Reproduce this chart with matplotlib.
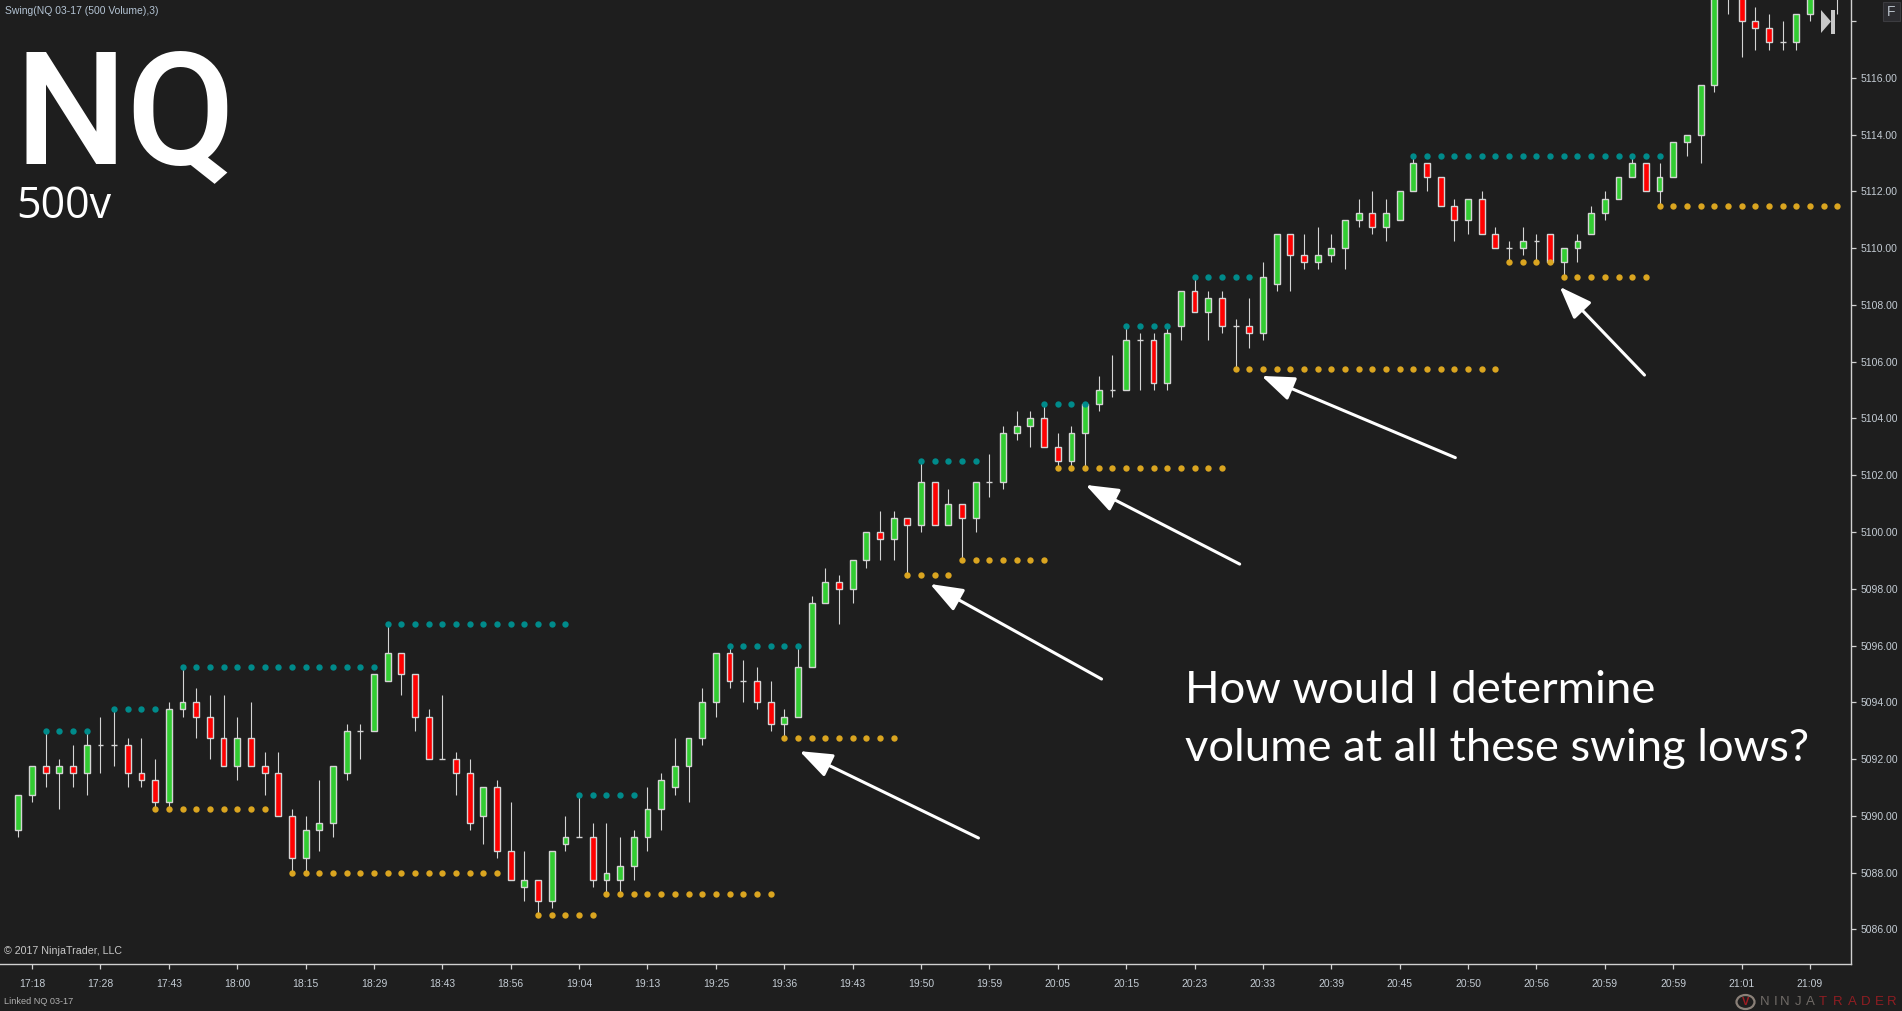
import numpy as np
import matplotlib
matplotlib.use('Agg')
import matplotlib.pyplot as plt
from matplotlib.patches import Polygon, Rectangle, Ellipse

W, H = 1902, 1011
BG = '#1e1e1e'

opens = [5089.5,5090.75,5091.75,5091.5,5091.75,5091.5,5092.5,5092.5,5092.5,5091.5,
         5091.25,5090.5,5093.75,5094,5093.5,5092.75,5091.75,5092.75,5091.75,5091.5,
         5090,5088.5,5089.5,5089.75,5091.5,5093,5093,5094.75,5095.75,5095,
         5093.5,5092,5092,5091.5,5090,5091,5088.75,5087.5,5087.75,5087,
         5089,5089.25,5089.25,5087.75,5087.75,5088.25,5089.25,5090.25,5091,5091.75,
         5092.75,5094,5095.75,5094.75,5094.75,5094,5093.25,5093.5,5095.25,5097.5,
         5098.25,5098,5099,5100,5099.75,5100.5,5100.25,5101.75,5100.25,5101,
         5100.5,5101.75,5101.75,5103.5,5103.75,5104,5103,5102.5,5103.5,5104.5,
         5105,5105,5106.75,5106.75,5105.25,5107.25,5108.5,5107.75,5108.25,5107.25,
         5107.25,5107,5108.75,5110.5,5109.75,5109.5,5109.75,5110,5111,5111.25,
         5110.75,5111,5112,5113,5112.5,5111.5,5111,5111.75,5110.5,5110,
         5110,5110.25,5110.5,5109.5,5110,5110.5,5111.25,5111.75,5112.5,5113,
         5112,5112.5,5113.75,5114,5115.75,5119.25,5119.25,5118,5117.75,5117.25,
         5117.25,5118.25,5119.25,5119.5]
highs = [5090.75,5091.75,5093,5092,5092.5,5093,5093.5,5093.75,5092.75,5092.75,
         5092,5094,5095.25,5094.5,5094.25,5094.25,5093.5,5094,5092.25,5092.25,
         5090.25,5090,5091.25,5091.75,5093.25,5093.25,5095,5096.75,5095.75,5095,
         5093.75,5094.25,5092.25,5092,5091,5091.25,5090.5,5088.75,5087.75,5088.75,
         5090,5090.75,5089.75,5089.75,5089.25,5089.5,5091,5091.5,5092.75,5092.75,
         5094.5,5095.75,5096,5095.5,5095.25,5094.75,5093.75,5096,5097.75,5098.75,
         5098.5,5099,5100,5100.75,5100.75,5100.5,5102.5,5101.75,5101.5,5101,
         5101.75,5102.75,5103.75,5104.25,5104.25,5104.5,5103.5,5103.75,5104.5,5105.5,
         5106.25,5107.25,5107,5107,5107.25,5108.5,5109,5108.5,5108.5,5107.5,
         5108.25,5109.5,5110.5,5110.5,5110.5,5110.75,5110.5,5111,5111.75,5112,
         5111.75,5112,5113.25,5113,5112.5,5111.75,5111.75,5112,5110.75,5110.25,
         5110.75,5110.5,5110.5,5110,5110.5,5111.5,5112,5112.5,5113.25,5113,
         5113,5113.75,5114,5115.75,5119.5,5120,5119.5,5118.5,5118.25,5118,
         5118.25,5119.5,5120,5120.5]
lows = [5089.25,5090.5,5091,5090.25,5091,5090.75,5091.5,5091.75,5091,5091,
        5090.25,5090.25,5093.5,5092.75,5092,5091.75,5091.25,5091.75,5090.75,5090,
        5088,5088,5088.75,5089.25,5091.25,5092,5093,5094.75,5094.25,5093,
        5092,5092,5090.75,5089.5,5089,5088.5,5087.75,5087,5086.5,5086.75,
        5088.75,5089.25,5087.5,5087.25,5087.25,5087.75,5088.75,5089.5,5090.75,5090.5,
        5092.5,5093.5,5094.5,5094,5093.75,5093,5092.75,5093.5,5095.25,5097.5,
        5096.75,5097.5,5098.75,5099,5099,5098.5,5100,5100.25,5100.25,5099,
        5100,5101.25,5101.5,5103.25,5103,5103,5102.25,5102.25,5102.25,5104.25,
        5104.75,5105,5105,5105,5105,5106.75,5107.75,5106.75,5107,5105.75,
        5106.5,5106.75,5108.5,5108.5,5109.25,5109.25,5109.5,5109.25,5110.75,5110.5,
        5110.25,5111,5112,5112,5111.5,5110.25,5110.5,5110.5,5110,5109.5,
        5109.75,5109.5,5109.5,5109,5109.5,5110.5,5111,5111.75,5112.5,5112,
        5111.5,5112.5,5113.25,5113,5115.5,5118.25,5116.75,5117,5117,5117,
        5117,5118,5119,5118.25]
closes = [5090.75,5091.75,5091.5,5091.75,5091.5,5092.5,5092.5,5092.5,5091.5,5091.25,
          5090.5,5093.75,5094,5093.5,5092.75,5091.75,5092.75,5091.75,5091.5,5090,
          5088.5,5089.5,5089.75,5091.75,5093,5093,5095,5095.75,5095,5093.5,
          5092,5092,5091.5,5089.75,5091,5088.75,5087.75,5087.75,5087,5088.75,
          5089.25,5089.25,5087.75,5088,5088.25,5089.25,5090.25,5091.25,5091.75,5092.75,
          5094,5095.75,5094.75,5094.75,5094,5093.25,5093.5,5095.25,5097.5,5098.25,
          5098,5099,5100,5099.75,5100.5,5100.25,5101.75,5100.25,5101,5100.5,
          5101.75,5101.75,5103.5,5103.75,5104,5103,5102.5,5103.5,5104.5,5105,
          5105,5106.75,5106.75,5105.25,5107,5108.5,5107.75,5108.25,5107.25,5107.25,
          5107,5109,5110.5,5109.75,5109.5,5109.75,5110,5111,5111.25,5110.75,
          5111.25,5112,5113,5112.5,5111.5,5111,5111.75,5110.5,5110,5110,
          5110.25,5110.25,5109.5,5110,5110.25,5111.25,5111.75,5112.5,5113,5112,
          5112.5,5113.75,5114,5115.75,5119.25,5119.5,5118,5117.75,5117.25,5117.25,
          5118.25,5119,5119.5,5120]

# swing levels: (first bar, last bar, price)
swing_highs = [(2,5,5093),(7,10,5093.75),(12,26,5095.25),(27,40,5096.75),(41,45,5090.75),
               (52,57,5096),(66,70,5102.5),(75,78,5104.5),(81,84,5107.25),(86,90,5109),
               (102,120,5113.25)]
swing_lows = [(10,18,5090.25),(20,35,5088),(38,42,5086.5),(43,55,5087.25),(56,64,5092.75),
              (65,68,5098.5),(69,75,5099),(76,88,5102.25),(89,108,5105.75),(109,112,5109.5),
              (113,119,5109),(120,133,5111.5)]

time_labels = ['17:18','17:28','17:43','18:00','18:15','18:29','18:43','18:56','19:04',
               '19:13','19:25','19:36','19:43','19:50','19:59','20:05','20:15','20:23',
               '20:33','20:39','20:45','20:50','20:56','20:59','20:59','21:01','21:09']
price_ticks = list(range(5086, 5120, 2))

# arrows: tail bar, tail price, tip bar, tip price
arrows = [(70.2,5089.22,57.12,5092.28),
          (79.2,5094.82,66.66,5098.17),
          (89.3,5098.87,78.04,5101.66),
          (105.07,5102.62,90.9,5105.5),
          (118.9,5105.53,112.7,5108.64)]

opens, highs, lows, closes = map(np.array, (opens, highs, lows, closes))
bars = np.arange(len(opens))

fig = plt.figure(figsize=(W/100, H/100), dpi=100, facecolor=BG)
ax = fig.add_axes([0, 47/H, 1851/W, 964/H], facecolor=BG)

# wicks then bodies
ax.vlines(bars, lows, highs, color='#d4d4d4', lw=0.8, zorder=2)
body_col = np.where(closes > opens, '#32cd32', '#ff0000')
ax.bar(bars, closes-opens, bottom=opens, width=0.43, color=body_col,
       edgecolor='#d4d4d4', linewidth=1.0, zorder=3)

for first, last, price in swing_highs:
    xs = np.arange(first, last+1)
    ax.scatter(xs, [price]*len(xs), s=21, color='#008b8b', linewidths=0, zorder=4)
for first, last, price in swing_lows:
    xs = np.arange(first, last+1)
    ax.scatter(xs, [price]*len(xs), s=21, color='#daa520', linewidths=0, zorder=4)

for x0, y0, x1, y1 in arrows:
    ax.annotate('', xy=(x1, y1), xytext=(x0, y0),
                arrowprops=dict(arrowstyle='-|>,head_length=20,head_width=7.5',
                                mutation_scale=1, color='white', lw=2.2,
                                shrinkA=0, shrinkB=0), zorder=5)

ax.set_xlim(-1.345, 134.0)
ax.set_ylim(5084.78, 5118.745)
ax.set_xticks(np.arange(1, 132, 5))
ax.set_xticklabels(time_labels)
ax.set_yticks(price_ticks)
ax.set_yticklabels(['%.2f' % p if p < 5118 else '' for p in price_ticks])
ax.yaxis.tick_right()
for s in ('top', 'left'):
    ax.spines[s].set_visible(False)
for s in ('right', 'bottom'):
    ax.spines[s].set_color('#d0d0d0')
    ax.spines[s].set_linewidth(1.0)
ax.tick_params(axis='both', colors='#d0d0d0', length=3.6, width=0.9)
ax.tick_params(axis='x', labelcolor='#c4ccd4', pad=7)
ax.tick_params(axis='y', labelcolor='#c4ccd4', pad=3.5)
for t in ax.get_xticklabels() + ax.get_yticklabels():
    t.set_family('Liberation Sans')
    t.set_fontsize(7.5)


def label(x, y, s, **kw):
    fig.text(x/W, 1-y/H, s, **kw)


label(14, 163, 'NQ', family='Roboto', fontsize=114, weight='medium', color='white', va='baseline')
label(16, 218, '500v', family='Open Sans', fontsize=31, color='white', va='baseline')
label(1185, 703, 'How would I determine', family='Lato', fontsize=32.7, color='white', va='baseline')
label(1185, 761, 'volume at all these swing lows?', family='Lato', fontsize=32.7, color='white', va='baseline')
label(5, 11, 'Swing(NQ 03-17 (500 Volume),3)', family='Liberation Sans', fontsize=7.5,
      color='#b4c4d4', va='center')
label(4, 951, '\u00a9 2017 NinjaTrader, LLC', family='Liberation Sans', fontsize=7.7,
      color='#c8c8c8', va='center')
label(4, 1002, 'Linked NQ 03-17', family='Liberation Sans', fontsize=6.6,
      color='#b0b0b0', va='center')

# little chart buttons, in pixels from the top left
pix = fig.transFigure
def box(x, y, w, h, **kw):
    fig.add_artist(Rectangle((x/W, 1-(y+h)/H), w/W, h/H, transform=pix, **kw))

box(1883, 2, 17, 19, facecolor='#2c2c30', edgecolor='#3c3c40', lw=0.8)
label(1891.5, 12, 'F', family='Liberation Sans', fontsize=10, color='#b8c0c8', ha='center', va='center')
fig.add_artist(Polygon([(1821/W, 1-10/H), (1831/W, 1-21.5/H), (1821/W, 1-33/H)],
                       transform=pix, facecolor='#c8c8c8', edgecolor='none'))
box(1831, 10, 4, 24, facecolor='#c8c8c8', edgecolor='none')

# logo
logo_letters = 'NINJATRADER'
logo_x = [1760, 1774, 1780, 1795, 1806, 1819, 1833, 1848, 1861, 1875, 1887]
for i, ch in enumerate(logo_letters):
    label(logo_x[i], 1002, ch, family='Liberation Sans', fontsize=9.5, ha='left', va='center',
          color='#6f6a66' if i < 5 else '#8f1d22')
fig.add_artist(Ellipse((1745.5/W, 1-1002/H), 18/W, 14/H, transform=pix,
                       facecolor='none', edgecolor='#8a8078', lw=1.6))
label(1746, 1002, 'V', family='Liberation Sans', fontsize=8, weight='bold', color='#a01c22',
      ha='center', va='center')

fig.savefig('out.png', dpi=100, facecolor=BG)
